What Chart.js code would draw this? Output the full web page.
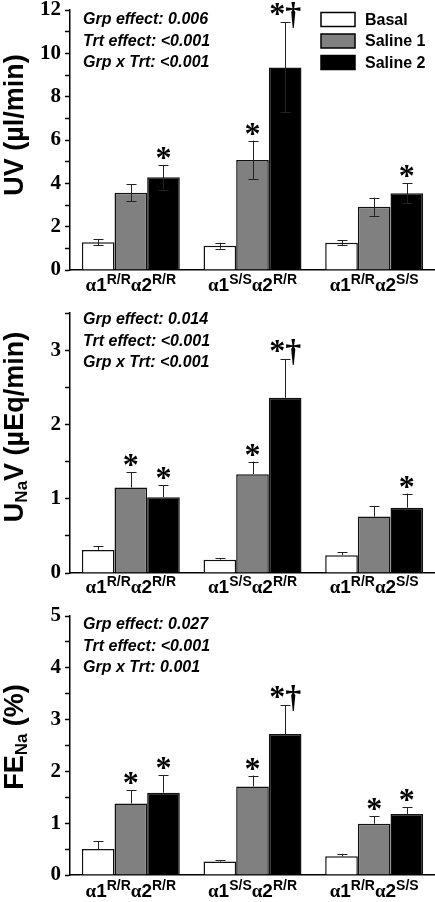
<!DOCTYPE html>
<html>
<head>
<meta charset="utf-8">
<script src="https://cdn.jsdelivr.net/npm/chart.js@4.4.0/dist/chart.umd.min.js"></script>
<style>
  html, body { margin: 0; padding: 0; background: #fff; }
  body { width: 435px; height: 902px; position: relative; overflow: hidden; }
  canvas { position: absolute; left: 0; }
</style>
</head>
<body>
<canvas id="uvChart" width="435" height="300" style="top:0"></canvas>
<canvas id="unavChart" width="435" height="300" style="top:300px"></canvas>
<canvas id="fenaChart" width="435" height="302" style="top:600px"></canvas>
<script>
// groups on the x axis: alpha1 genotype / alpha2 genotype
const groupLabels = ['α1R/Rα2R/R', 'α1S/Sα2R/R', 'α1R/Rα2S/S'];
const alpha1Geno = ['R/R', 'S/S', 'R/R'];
const alpha2Geno = ['R/R', 'R/R', 'S/S'];
const seriesNames = ['Basal', 'Saline 1', 'Saline 2'];

// UV (µl/min), mean and SEM
const uvBasal = [1.28, 1.12, 1.26];
const uvBasalErr = [0.14, 0.14, 0.12];
const uvSaline1 = [3.57, 5.08, 2.92];
const uvSaline1Err = [0.40, 0.89, 0.42];
const uvSaline2 = [4.28, 9.35, 3.54];
const uvSaline2Err = [0.57, 2.08, 0.46];
const uvMarksSaline1 = ['', '*', ''];
const uvMarksSaline2 = ['*', '*†', '*'];
const uvStats = ['Grp effect: 0.006', 'Trt effect: <0.001', 'Grp x Trt: <0.001'];

// UNaV (µEq/min)
const unavBasal = [0.31, 0.18, 0.24];
const unavBasalErr = [0.05, 0.02, 0.04];
const unavSaline1 = [1.15, 1.33, 0.76];
const unavSaline1Err = [0.21, 0.17, 0.14];
const unavSaline2 = [1.02, 2.36, 0.88];
const unavSaline2Err = [0.16, 0.52, 0.19];
const unavMarksSaline1 = ['*', '*', ''];
const unavMarksSaline2 = ['*', '*†', '*'];
const unavStats = ['Grp effect: 0.014', 'Trt effect: <0.001', 'Grp x Trt: <0.001'];

// FENa (%)
const fenaBasal = [0.50, 0.26, 0.36];
const fenaBasalErr = [0.15, 0.02, 0.05];
const fenaSaline1 = [1.38, 1.71, 0.99];
const fenaSaline1Err = [0.26, 0.21, 0.14];
const fenaSaline2 = [1.59, 2.72, 1.18];
const fenaSaline2Err = [0.34, 0.56, 0.13];
const fenaMarksSaline1 = ['*', '*', '*'];
const fenaMarksSaline2 = ['*', '*†', '*'];
const fenaStats = ['Grp effect: 0.027', 'Trt effect: <0.001', 'Grp x Trt: 0.001'];

const barColors = ['#ffffff', '#808080', '#000000'];
const SANS = '"Liberation Sans", Arial, sans-serif';
const SERIF = '"Liberation Serif", "Times New Roman", serif';

// draw a run of text parts, each {t, font, dy}
function drawParts(ctx, parts, x, y) {
  let cx = x;
  parts.forEach(p => {
    ctx.font = p.font;
    ctx.fillText(p.t, cx, y + (p.dy || 0));
    cx += ctx.measureText(p.t).width;
  });
}
function partsWidth(ctx, parts) {
  let w = 0;
  parts.forEach(p => { ctx.font = p.font; w += ctx.measureText(p.t).width; });
  return w;
}

// draw a glyph centred on (x, y) using its real ink box
function drawCentered(ctx, text, font, x, y) {
  ctx.font = font;
  const m = ctx.measureText(text);
  const w = m.actualBoundingBoxRight + m.actualBoundingBoxLeft;
  const h = m.actualBoundingBoxAscent + m.actualBoundingBoxDescent;
  ctx.fillText(text, x - w / 2 + m.actualBoundingBoxLeft, y - h / 2 + m.actualBoundingBoxAscent);
}

function makePanel(id, p) {
  const extras = {
    id: 'extras',
    afterDatasetsDraw(chart) {
      const ctx = chart.ctx;
      const area = chart.chartArea;
      const yScale = chart.scales.y;
      const xScale = chart.scales.x;
      ctx.save();

      // error bars
      ctx.strokeStyle = '#222';
      ctx.lineWidth = 1;
      chart.data.datasets.forEach((ds, i) => {
        chart.getDatasetMeta(i).data.forEach((bar, j) => {
          const top = yScale.getPixelForValue(ds.data[j] + ds.err[j]);
          const bottom = p.bothWays ? yScale.getPixelForValue(ds.data[j] - ds.err[j]) : bar.y;
          const x = Math.round(bar.x) + 0.5;
          ctx.beginPath();
          ctx.moveTo(x, top); ctx.lineTo(x, bottom);
          ctx.moveTo(x - 5, Math.round(top) + 0.5); ctx.lineTo(x + 5, Math.round(top) + 0.5);
          if (p.bothWays) {
            ctx.moveTo(x - 5, Math.round(bottom) + 0.5); ctx.lineTo(x + 5, Math.round(bottom) + 0.5);
          }
          ctx.stroke();
        });
      });

      // significance marks
      ctx.fillStyle = '#000';
      chart.data.datasets.forEach((ds, i) => {
        if (!ds.marks) return;
        chart.getDatasetMeta(i).data.forEach((bar, j) => {
          const mark = ds.marks[j];
          if (!mark) return;
          const top = yScale.getPixelForValue(ds.data[j] + ds.err[j]);
          if (mark === '*') {
            drawCentered(ctx, '*', 'bold 32px ' + SERIF, bar.x, top - 12);
          } else {
            drawCentered(ctx, '*', 'bold 32px ' + SERIF, bar.x - 8, top - 13);
            drawCentered(ctx, '†', 'bold 32px ' + SERIF, bar.x + 8, top - 7);
          }
        });
      });

      // x category labels with superscripts
      ctx.textBaseline = 'alphabetic';
      const main = 'bold 19px ' + SANS;
      const alpha = 'bold 19px ' + SERIF;
      const sup = 'bold 14px ' + SANS;
      chart.data.labels.forEach((lab, i) => {
        const parts = [
          { t: 'α', font: alpha }, { t: '1', font: main }, { t: alpha1Geno[i], font: sup, dy: -7 },
          { t: 'α', font: alpha }, { t: '2', font: main }, { t: alpha2Geno[i], font: sup, dy: -7 }
        ];
        const cx = xScale.getPixelForValue(i);
        drawParts(ctx, parts, cx - partsWidth(ctx, parts) / 2, area.bottom + p.labelGap);
      });

      // rotated y title with subscript
      ctx.save();
      ctx.translate(23, p.titleY);
      ctx.rotate(-Math.PI / 2);
      const tParts = p.title.map(s => ({ t: s.t, font: s.sub ? 'bold 17px ' + SANS : 'bold 27px ' + SANS, dy: s.sub ? 4 : 0 }));
      drawParts(ctx, tParts, -partsWidth(ctx, tParts) / 2, 0);
      ctx.restore();

      // statistics text
      ctx.font = 'italic bold 16px ' + SANS;
      ctx.textBaseline = 'middle';
      p.stats.forEach((s, k) => {
        ctx.fillText(s, 83, area.top + p.statsTop + k * 21.5);
      });

      // legend (top panel only)
      if (p.legend) {
        const rowsY = [19.5, 41, 62.5];
        chart.data.datasets.forEach((ds, i) => {
          ctx.fillStyle = ds.backgroundColor;
          ctx.fillRect(321, rowsY[i] - 7, 34, 14);
          ctx.strokeStyle = '#000';
          ctx.lineWidth = 1.5;
          ctx.strokeRect(321, rowsY[i] - 7, 34, 14);
          ctx.fillStyle = '#000';
          ctx.font = 'bold 16px ' + SANS;
          ctx.fillText(ds.label, 365, rowsY[i] + 1);
        });
      }
      ctx.restore();
    }
  };

  const datasets = p.values.map((vals, i) => ({
    label: seriesNames[i],
    data: vals,
    err: p.errs[i],
    marks: p.marks[i],
    backgroundColor: barColors[i],
    borderColor: '#111',
    borderWidth: 1.5,
    categoryPercentage: 0.805,
    barPercentage: 1.0
  }));

  return new Chart(document.getElementById(id), {
    type: 'bar',
    data: { labels: groupLabels, datasets: datasets },
    options: {
      responsive: false,
      animation: false,
      layout: { padding: { top: p.top, left: 0, right: 0, bottom: 0 } },
      plugins: { legend: { display: false }, tooltip: { enabled: false } },
      scales: {
        x: {
          ticks: { display: false },
          grid: { display: false },
          border: { display: true, color: '#000', width: 1.5 },
          afterFit: s => { s.height = p.bottomSpace; s.paddingLeft = 0; s.paddingRight = 0; }
        },
        y: {
          min: 0,
          max: p.max,
          ticks: {
            stepSize: p.minorStep,
            autoSkip: false,
            callback: v => (Math.abs(v / p.majorStep - Math.round(v / p.majorStep)) < 1e-6 ? v : ''),
            font: { family: SERIF, weight: 'bold', size: 21 },
            color: '#000',
            padding: 4
          },
          grid: { display: true, drawOnChartArea: false, drawTicks: true, tickLength: 5, tickColor: '#000', tickWidth: 1.5 },
          border: { display: true, color: '#000', width: 1.5 },
          afterFit: s => { s.width = 70; s.paddingTop = 0; s.paddingBottom = 0; }
        }
      }
    },
    plugins: [extras]
  });
}

makePanel('uvChart', {
  values: [uvBasal, uvSaline1, uvSaline2],
  errs: [uvBasalErr, uvSaline1Err, uvSaline2Err],
  marks: [null, uvMarksSaline1, uvMarksSaline2],
  stats: uvStats,
  title: [{ t: 'UV (µl/min)' }],
  titleY: 125,
  max: 12, minorStep: 1, majorStep: 2,
  top: 10, bottomSpace: 30, labelGap: 21, statsTop: 10,
  bothWays: true, legend: true
});

makePanel('unavChart', {
  values: [unavBasal, unavSaline1, unavSaline2],
  errs: [unavBasalErr, unavSaline1Err, unavSaline2Err],
  marks: [null, unavMarksSaline1, unavMarksSaline2],
  stats: unavStats,
  title: [{ t: 'U' }, { t: 'Na', sub: true }, { t: 'V (µEq/min)' }],
  titleY: 127,
  max: 3.5, minorStep: 0.5, majorStep: 1,
  top: 13, bottomSpace: 27, labelGap: 20, statsTop: 7,
  bothWays: false, legend: false
});

makePanel('fenaChart', {
  values: [fenaBasal, fenaSaline1, fenaSaline2],
  errs: [fenaBasalErr, fenaSaline1Err, fenaSaline2Err],
  marks: [null, fenaMarksSaline1, fenaMarksSaline2],
  stats: fenaStats,
  title: [{ t: 'FE' }, { t: 'Na', sub: true }, { t: ' (%)' }],
  titleY: 137,
  max: 5, minorStep: 0.5, majorStep: 1,
  top: 16, bottomSpace: 27, labelGap: 22, statsTop: 9,
  bothWays: false, legend: false
});
</script>
</body>
</html>
